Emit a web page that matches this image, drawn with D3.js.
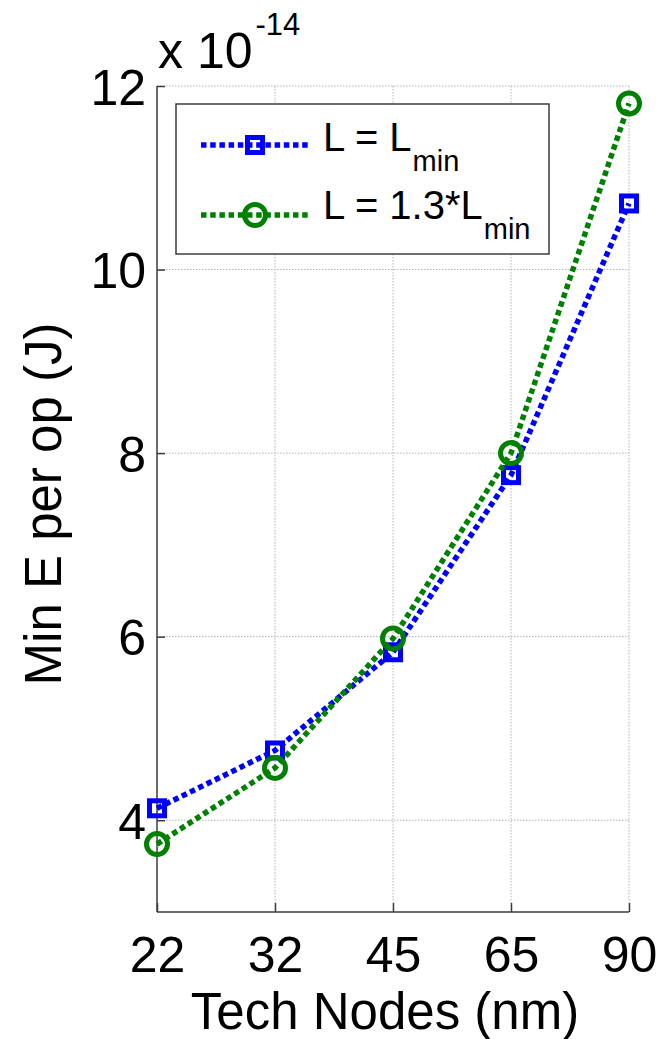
<!DOCTYPE html>
<html>
<head>
<meta charset="utf-8">
<script src="https://cdn.jsdelivr.net/npm/d3@7"></script>
<style>
  html, body { margin: 0; padding: 0; background: #fff; }
  svg { display: block; font-family: "Liberation Sans", Arial, Helvetica, sans-serif; }
</style>
</head>
<body>
<svg id="chart" width="670" height="1039"></svg>
<script>
// Technology nodes (nm) on the x axis
const techNodes = ["22", "32", "45", "65", "90"];
// Minimum energy per operation, in units of 1e-14 J
const energyLmin = [4.13, 4.76, 5.83, 7.76, 10.72];
const energy13Lmin = [3.74, 4.57, 5.98, 8.00, 11.81];
// Y tick values (units of 1e-14 J)
const yTicks = [4, 6, 8, 10, 12];

const series = [
  { main: "L = L", sub: "min", values: energyLmin, color: "#0000ff", marker: "square" },
  { main: "L = 1.3*L", sub: "min", values: energy13Lmin, color: "#008000", marker: "circle" }
];

const svg = d3.select("#chart");
const plotLeft = 157, plotRight = 629, plotTop = 86, plotBottom = 912;

const x = d3.scalePoint().domain(techNodes).range([plotLeft, plotRight]);
const y = d3.scaleLinear().domain([3, 12]).range([plotBottom, plotTop]);

const gridColor = "#b4b4b4";
const axisColor = "#3c3c3c";
const fontSize = 50;

// Dotted grid
const grid = svg.append("g");
grid.selectAll("line.gx").data(techNodes.slice(1)).join("line")
  .attr("x1", d => x(d)).attr("x2", d => x(d))
  .attr("y1", plotTop).attr("y2", plotBottom)
  .attr("stroke", gridColor).attr("stroke-width", 1).attr("stroke-dasharray", "1.5,1.5");
grid.selectAll("line.gy").data(yTicks).join("line")
  .attr("x1", plotLeft).attr("x2", plotRight)
  .attr("y1", d => y(d)).attr("y2", d => y(d))
  .attr("stroke", gridColor).attr("stroke-width", 1).attr("stroke-dasharray", "1.5,1.5");

// Axes: left and bottom only, ticks pointing inward
const yAxis = d3.axisLeft(y).tickValues(yTicks).tickSize(-8).tickPadding(12).tickFormat(d3.format("d"));
const xAxis = d3.axisBottom(x).tickSize(-9).tickPadding(22);

const gy = svg.append("g").attr("transform", `translate(${plotLeft},0)`).call(yAxis);
const gx = svg.append("g").attr("transform", `translate(0,${plotBottom})`).call(xAxis);

[gx, gy].forEach(g => {
  g.select(".domain").attr("stroke", axisColor).attr("stroke-width", 1.5);
  g.selectAll(".tick line").attr("stroke", axisColor).attr("stroke-width", 1.5);
  g.selectAll(".tick text").attr("fill", "#000").attr("font-size", fontSize)
    .attr("font-family", "'Liberation Sans', Arial, Helvetica, sans-serif");
});
gy.select(".domain").attr("d", `M0,${plotBottom}V${plotTop}`);
gx.select(".domain").attr("d", `M${plotLeft},0H${plotRight}`);
gy.selectAll(".tick text").attr("dy", "0.36em").attr("x", -11);
gx.selectAll(".tick text").attr("dy", "0").attr("y", 60);

// Axis titles
svg.append("text")
  .attr("x", (plotLeft + plotRight) / 2 - 8).attr("y", 1029)
  .attr("text-anchor", "middle").attr("font-size", 51).attr("fill", "#000")
  .text("Tech Nodes (nm)");
svg.append("text")
  .attr("transform", `translate(61,${(plotTop + plotBottom) / 2 + 5}) rotate(-90)`)
  .attr("text-anchor", "middle").attr("font-size", 51).attr("fill", "#000")
  .text("Min E per op (J)");

// Exponent label
const expo = svg.append("text").attr("x", 158).attr("y", 68).attr("font-size", fontSize).attr("fill", "#000");
expo.append("tspan").text("x 10");
expo.append("tspan").attr("font-size", 31).attr("dy", -33).attr("dx", 3).text("-14");

// Lines and markers
const line = d3.line().x((d, i) => x(techNodes[i])).y(d => y(d));
const dash = "5.5,3.7";
const lineWidth = 5.5;

function drawMarker(g, type, cx, cy, color) {
  if (type === "square") {
    g.append("rect").attr("x", cx - 7.5).attr("y", cy - 7.5)
      .attr("width", 15).attr("height", 15)
      .attr("fill", "none").attr("stroke", color).attr("stroke-width", 5);
  } else {
    g.append("circle").attr("cx", cx).attr("cy", cy).attr("r", 10.5)
      .attr("fill", "none").attr("stroke", color).attr("stroke-width", 5);
  }
}

series.forEach(s => {
  const g = svg.append("g");
  g.append("path").datum(s.values).attr("d", line)
    .attr("fill", "none").attr("stroke", s.color).attr("stroke-width", lineWidth)
    .attr("stroke-dasharray", dash);
  s.values.forEach((v, i) => drawMarker(g, s.marker, x(techNodes[i]), y(v), s.color));
});

// Legend
const lg = svg.append("g");
lg.append("rect").attr("x", 176).attr("y", 104).attr("width", 373).attr("height", 150)
  .attr("fill", "#fff").attr("stroke", axisColor).attr("stroke-width", 1.5);
const rowY = [145, 215];
series.forEach((s, i) => {
  const ry = rowY[i];
  lg.append("line").attr("x1", 201).attr("x2", 310).attr("y1", ry).attr("y2", ry)
    .attr("stroke", s.color).attr("stroke-width", lineWidth).attr("stroke-dasharray", dash);
  drawMarker(lg, s.marker, 255, ry, s.color);
  const t = lg.append("text").attr("x", 323).attr("y", ry + 6 + (i === 1 ? -2 : 0))
    .attr("font-size", 40).attr("fill", "#000");
  t.append("tspan").text(s.main);
  t.append("tspan").attr("font-size", 29).attr("dy", 20).attr("dx", 1).text(s.sub);
});
</script>
</body>
</html>
